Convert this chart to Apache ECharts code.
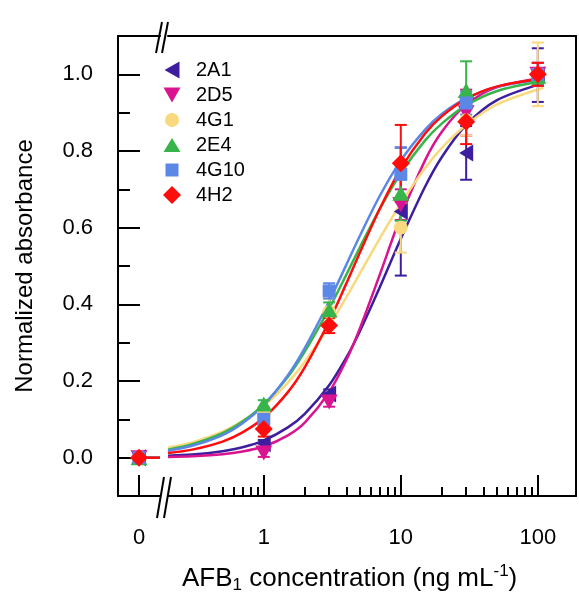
<!DOCTYPE html>
<html><head><meta charset="utf-8">
<script src="https://cdn.jsdelivr.net/npm/echarts@6/dist/echarts.min.js"></script>
<style>html,body{margin:0;padding:0;background:#fff}#c{width:579px;height:596px}</style>
</head><body><div id="c"></div>
<script>
// ---------- data ----------
const seriesNames = ['2A1', '2D5', '4G1', '2E4', '4G10', '4H2'];
const seriesColors = ['#3C1E9E', '#DA1490', '#F9D97F', '#38B54A', '#5B87E6', '#FF0D0D'];
const concentrations = [0, 1, 3, 10, 30, 100];
const mean2A1  = [0, 0.036, 0.166, 0.642, 0.795, 0.998];
const err2A1   = [0.01, 0.01, 0.012, 0.167, 0.07, 0.07];
const mean2D5  = [0, 0.012, 0.145, 0.66, 0.90, 1.0];
const err2D5   = [0.01, 0.01, 0.012, 0.04, 0.06, 0.03];
const mean4G1  = [0, 0.115, 0.38, 0.60, 0.88, 1.0];
const err4G1   = [0.01, 0.01, 0.035, 0.065, 0.04, 0.083];
const mean2E4  = [0, 0.14, 0.385, 0.69, 0.958, 0.995];
const err2E4   = [0.01, 0.01, 0.02, 0.072, 0.076, 0.02];
const mean4G10 = [0, 0.10, 0.435, 0.739, 0.925, 1.0];
const err4G10  = [0.01, 0.03, 0.02, 0.07, 0.03, 0.03];
const mean4H2  = [0, 0.075, 0.345, 0.768, 0.876, 1.0];
const err4H2   = [0.01, 0.02, 0.02, 0.10, 0.058, 0.03];

// fitted curves
const fitConc = [0.2, 0.3, 0.5, 0.7, 1, 1.5, 2, 3, 4, 5, 7, 10, 15, 20, 30, 50, 110];
const fit2A1  = [0.005, 0.008, 0.017, 0.027, 0.045, 0.079, 0.115, 0.189, 0.261, 0.328, 0.443, 0.571, 0.706, 0.785, 0.868, 0.932, 0.977];
const fit2D5  = [0.002, 0.004, 0.009, 0.016, 0.029, 0.058, 0.092, 0.171, 0.254, 0.335, 0.476, 0.629, 0.775, 0.851, 0.921, 0.966, 0.991];
const fit4G1  = [0.026, 0.040, 0.068, 0.096, 0.135, 0.196, 0.251, 0.344, 0.418, 0.479, 0.571, 0.663, 0.755, 0.809, 0.868, 0.921, 0.965];
const fit2E4  = [0.021, 0.035, 0.064, 0.094, 0.139, 0.211, 0.278, 0.389, 0.477, 0.547, 0.648, 0.742, 0.827, 0.872, 0.919, 0.956, 0.983];
const fit4G10 = [0.018, 0.031, 0.059, 0.090, 0.137, 0.215, 0.287, 0.408, 0.503, 0.577, 0.682, 0.775, 0.855, 0.897, 0.937, 0.967, 0.988];
const fit4H2  = [0.012, 0.021, 0.042, 0.066, 0.104, 0.171, 0.237, 0.356, 0.454, 0.533, 0.648, 0.754, 0.845, 0.891, 0.936, 0.968, 0.989];

const yMajorTicks = [0, 0.2, 0.4, 0.6, 0.8, 1.0];
const yMinorTicks = [0.1, 0.3, 0.5, 0.7, 0.9];
const xMajorTicks = [1, 10, 100];
const xMinorTicks = [0.3, 0.4, 0.5, 0.6, 0.7, 0.8, 0.9, 2, 3, 4, 5, 6, 7, 8, 9, 20, 30, 40, 50, 60, 70, 80, 90];
const xBlankTick = [0];

// ---------- styles ----------
const means = [mean2A1, mean2D5, mean4G1, mean2E4, mean4G10, mean4H2];
const errs = [err2A1, err2D5, err4G1, err2E4, err4G10, err4H2];
const fits = [fit2A1, fit2D5, fit4G1, fit2E4, fit4G10, fit4H2];
const symbols = [
  {symbol: 'triangle', rotate: 90, size: [17, 14]},
  {symbol: 'triangle', rotate: 180, size: [17, 15]},
  {symbol: 'circle', rotate: 0, size: 14},
  {symbol: 'triangle', rotate: 0, size: [17, 15]},
  {symbol: 'rect', rotate: 0, size: 13},
  {symbol: 'diamond', rotate: 0, size: 18}
];
const legendIcons = [
  'path://M0,0M28,18M16.5,0.5L16.5,17.5L1.5,9Z',
  'path://M0,0M28,18M0.5,1.5L17.5,1.5L9,16.5Z',
  'path://M0,0M28,18M2,9A7,7,0,1,1,16,9A7,7,0,1,1,2,9Z',
  'path://M0,0M28,18M0.5,16L17.5,16L9,2Z',
  'path://M0,0M28,18M2.5,2.5L15.5,2.5L15.5,15.5L2.5,15.5Z',
  'path://M0,0M28,18M9,0L18,9L9,18L0,9Z'
];
const FONT = "'Liberation Sans', Arial, sans-serif";
const AX = {color: '#000', width: 2};
const AXLINE = {onZero: false, lineStyle: AX};

function errRender(params, api) {
  const x = api.value(0), lo = api.value(1), hi = api.value(2);
  const a = api.coord([x, lo]), b = api.coord([x, hi]);
  const hw = 6;
  const st = {stroke: api.visual('color'), lineWidth: 2, fill: null};
  return {type: 'group', children: [
    {type: 'line', shape: {x1: a[0], y1: a[1], x2: b[0], y2: b[1]}, style: st},
    {type: 'line', shape: {x1: a[0] - hw, y1: a[1], x2: a[0] + hw, y2: a[1]}, style: st},
    {type: 'line', shape: {x1: b[0] - hw, y1: b[1], x2: b[0] + hw, y2: b[1]}, style: st}
  ]};
}

const series = [];
// curves
seriesNames.forEach((n, i) => {
  series.push({
    name: n + ' fit', type: 'line', xAxisIndex: 2, yAxisIndex: 2,
    data: fitConc.map((c, k) => [c, fits[i][k]]),
    showSymbol: false, smooth: 0.3, z: 2, silent: true,
    lineStyle: {color: seriesColors[i], width: 2.5}
  });
  series.push({
    name: n + ' fit0', type: 'line', xAxisIndex: 0, yAxisIndex: 0,
    data: [[concentrations[0], means[i][0]], [1, means[i][0]]],
    showSymbol: false, z: 2, silent: true,
    lineStyle: {color: seriesColors[i], width: 2.5}
  });
});
// error bars
seriesNames.forEach((n, i) => {
  const pts = concentrations.map((c, k) => [c, means[i][k] - errs[i][k], means[i][k] + errs[i][k]]);
  series.push({
    name: n + ' err', type: 'custom', xAxisIndex: 2, yAxisIndex: 2, z: 3,
    itemStyle: {color: seriesColors[i]}, renderItem: errRender,
    encode: {x: 0, y: [1, 2]}, data: pts.filter(p => p[0] > 0)
  });
  series.push({
    name: n + ' err0', type: 'custom', xAxisIndex: 0, yAxisIndex: 0, z: 3,
    itemStyle: {color: seriesColors[i]}, renderItem: errRender,
    encode: {x: 0, y: [1, 2]}, data: pts.filter(p => p[0] === 0)
  });
});
// markers
seriesNames.forEach((n, i) => {
  const pts = concentrations.map((c, k) => [c, means[i][k]]);
  const common = {
    name: n, type: 'scatter', z: 4,
    symbol: symbols[i].symbol, symbolRotate: symbols[i].rotate, symbolSize: symbols[i].size,
    itemStyle: {color: seriesColors[i], opacity: 1}
  };
  series.push(Object.assign({}, common, {xAxisIndex: 2, yAxisIndex: 2, data: pts.filter(p => p[0] > 0)}));
  series.push(Object.assign({}, common, {xAxisIndex: 0, yAxisIndex: 0, data: pts.filter(p => p[0] === 0)}));
});

const richBase = {fontFamily: FONT, color: '#000', fontWeight: 'normal'};
const option = {
  animation: false,
  backgroundColor: '#fff',
  textStyle: {fontFamily: FONT},
  grid: [
    {left: 118, width: 42, top: 36, height: 460},
    {left: 168, right: 3, top: 36, height: 460}
  ],
  title: {
    text: '{a|AFB}{s|1}{a| concentration (ng mL}{p|-1}{a|)}',
    left: 182, top: 563, padding: 0,
    textStyle: {fontWeight: 'normal', rich: {
      a: Object.assign({fontSize: 26, lineHeight: 31}, richBase),
      s: Object.assign({fontSize: 17, lineHeight: 17, verticalAlign: 'bottom'}, richBase),
      p: Object.assign({fontSize: 17, lineHeight: 17, verticalAlign: 'top'}, richBase)
    }}
  },
  legend: {
    orient: 'vertical', left: 163, top: 60, itemGap: 5, padding: 0,
    itemWidth: 28, itemHeight: 18, selectedMode: false, symbolRotate: 0,
    textStyle: {fontSize: 20, fontFamily: FONT, color: '#000'},
    data: seriesNames.map((n, i) => ({name: n, icon: legendIcons[i]}))
  },
  xAxis: [
    {gridIndex: 0, type: 'value', min: -1, max: 1, position: 'bottom',
     axisLine: AXLINE, splitLine: {show: false},
     axisTick: {inside: true, length: 21, lineStyle: AX, customValues: xBlankTick},
     axisLabel: {customValues: xBlankTick, fontSize: 22, color: '#000', margin: 31, fontFamily: FONT}},
    {gridIndex: 0, type: 'value', min: -1, max: 1, position: 'top',
     axisLine: AXLINE, axisTick: {show: false}, axisLabel: {show: false}, splitLine: {show: false}},
    {gridIndex: 1, type: 'log', min: 0.2, max: 190, position: 'bottom',
     axisLine: AXLINE, splitLine: {show: false}, minorTick: {show: false},
     axisTick: {inside: true, length: 21, lineStyle: AX, customValues: xMajorTicks},
     axisLabel: {customValues: xMajorTicks, fontSize: 22, color: '#000', margin: 31, fontFamily: FONT,
                 formatter: v => String(Math.round(v))}},
    {gridIndex: 1, type: 'log', min: 0.2, max: 190, position: 'bottom',
     axisLine: {show: false, onZero: false}, splitLine: {show: false},
     axisTick: {inside: true, length: 9, lineStyle: AX, customValues: xMinorTicks},
     axisLabel: {show: false}},
    {gridIndex: 1, type: 'value', min: 0, max: 1, position: 'top',
     axisLine: AXLINE, axisTick: {show: false}, axisLabel: {show: false}, splitLine: {show: false}}
  ],
  yAxis: [
    {gridIndex: 0, type: 'value', min: -0.1, max: 1.1, position: 'left',
     name: 'Normalized absorbance', nameLocation: 'middle', nameGap: 81,
     nameTextStyle: {fontSize: 24, color: '#000', fontFamily: FONT},
     axisLine: AXLINE, splitLine: {show: false},
     axisTick: {inside: true, length: 22, lineStyle: AX, customValues: yMajorTicks},
     axisLabel: {customValues: yMajorTicks, fontSize: 22, color: '#000', margin: 25, fontFamily: FONT,
                 formatter: v => v.toFixed(1)}},
    {gridIndex: 0, type: 'value', min: -0.1, max: 1.1, position: 'left',
     axisLine: {show: false, onZero: false}, splitLine: {show: false},
     axisTick: {inside: true, length: 12, lineStyle: AX, customValues: yMinorTicks},
     axisLabel: {show: false}},
    {gridIndex: 1, type: 'value', min: -0.1, max: 1.1, position: 'right',
     axisLine: AXLINE, axisTick: {show: false}, axisLabel: {show: false}, splitLine: {show: false}}
  ],
  graphic: [
    {type: 'line', shape: {x1: 156, y1: 53, x2: 162, y2: 22}, style: {stroke: '#000', lineWidth: 2}},
    {type: 'line', shape: {x1: 162, y1: 53, x2: 168, y2: 22}, style: {stroke: '#000', lineWidth: 2}},
    {type: 'line', shape: {x1: 157, y1: 518, x2: 164, y2: 477}, style: {stroke: '#000', lineWidth: 2}},
    {type: 'line', shape: {x1: 164, y1: 518, x2: 171, y2: 477}, style: {stroke: '#000', lineWidth: 2}}
  ],
  series: series
};
const chart = echarts.init(document.getElementById('c'), null, {renderer: 'canvas'});
chart.setOption(option);
</script></body></html>
